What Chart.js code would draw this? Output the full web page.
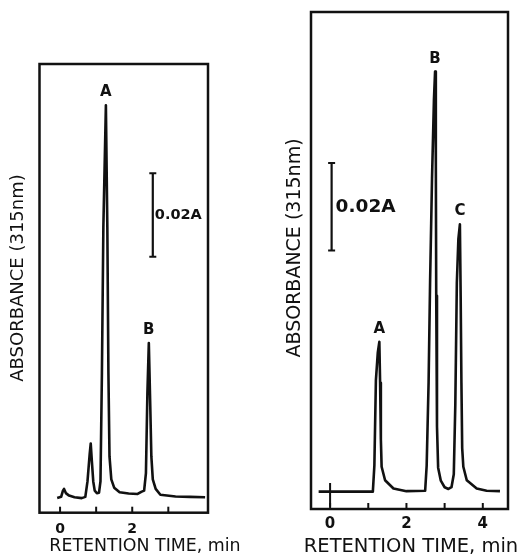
<!DOCTYPE html>
<html>
<head>
<meta charset="utf-8">
<script src="https://cdn.jsdelivr.net/npm/chart.js"></script>
<style>
  body { margin: 0; background: #fff; }
  #wrap { position: relative; width: 522px; height: 557px; overflow: hidden; }
  canvas { position: absolute; top: 0; }
  #left { left: 0; }
  #right { left: 261px; }
</style>
</head>
<body>
<div id="wrap">
  <canvas id="left" width="261" height="557"></canvas>
  <canvas id="right" width="261" height="557"></canvas>
</div>
<script>
// left chromatogram (peaks A, B)
const leftTime = [-0.08, 0.03, 0.08, 0.11, 0.16, 0.25, 0.40, 0.60, 0.70, 0.76, 0.82, 0.85, 0.88, 0.92, 0.96,
  1.02, 1.08, 1.12, 1.16, 1.20, 1.27, 1.31, 1.34, 1.37, 1.42, 1.50, 1.65, 1.90, 2.15, 2.25, 2.33, 2.38,
  2.42, 2.46, 2.50, 2.53, 2.57, 2.65, 2.78, 3.20, 3.60, 4.02];
const leftAbs = [0.0000, 0.0003, 0.0018, 0.0022, 0.0012, 0.0006, 0.0002, 0.0000, 0.0003, 0.0040, 0.0105, 0.0131, 0.0090, 0.0040, 0.0018,
  0.0012, 0.0013, 0.0040, 0.0300, 0.0650, 0.0942, 0.0650, 0.0300, 0.0100, 0.0045, 0.0025, 0.0014, 0.0011, 0.0010, 0.0015, 0.0018, 0.0060,
  0.0250, 0.0372, 0.0220, 0.0100, 0.0045, 0.0022, 0.0008, 0.0004, 0.0003, 0.0002];
const leftPeakNames = ["A", "B"];
const leftPeakTime = [1.27, 2.46];
const leftPeakAbs = [0.0942, 0.0372];
const leftBarTime = [2.57, 2.57];
const leftBarAbs = [0.0579, 0.0779];
const leftTicks = [0, 1, 2, 3];
const leftTickLabels = [0, 2];

// right chromatogram (peaks A, B, C)
const rightTime = [-0.30, 1.12, 1.16, 1.20, 1.25, 1.29, 1.31, 1.33, 1.35, 1.44, 1.66, 2.00, 2.49, 2.53, 2.58, 2.62,
  2.67, 2.72, 2.75, 2.77, 2.78, 2.80, 2.83, 2.90, 3.00, 3.10, 3.18, 3.24, 3.28, 3.32, 3.36, 3.40, 3.42, 3.44,
  3.46, 3.49, 3.58, 3.84, 4.10, 4.45];
const rightAbs = [0.0000, 0.0000, 0.0060, 0.0256, 0.0320, 0.0344, 0.0250, 0.0120, 0.0057, 0.0026, 0.0007, 0.0001, 0.0002, 0.0060, 0.0250, 0.0486,
  0.0720, 0.0900, 0.0965, 0.0750, 0.0450, 0.0150, 0.0055, 0.0025, 0.0010, 0.0006, 0.0010, 0.0040, 0.0200, 0.0480, 0.0580, 0.0614, 0.0450, 0.0250,
  0.0100, 0.0057, 0.0026, 0.0007, 0.0002, 0.0001];
const rightPeakNames = ["A", "B", "C"];
const rightPeakTime = [1.29, 2.75, 3.40];
const rightPeakAbs = [0.0344, 0.0965, 0.0614];
const rightBarTime = [0.04, 0.04];
const rightBarAbs = [0.0554, 0.0755];
const rightInjectTime = [0, 0];
const rightInjectAbs = [0.0020, -0.0035];
const rightTicks = [0, 1, 2, 3, 4];
const rightTickLabels = [0, 2, 4];

const ink = "#111";
const fam = "'DejaVu Sans', 'Liberation Sans', sans-serif";

function pts(xs, ys) {
  return xs.map((x, i) => ({ x: x, y: ys[i] }));
}

// box, inward ticks, peak letters, scale-bar label and axis titles
const framePlugin = {
  id: "frame",
  afterDatasetsDraw(chart, args, o) {
    const ctx = chart.ctx;
    const a = chart.chartArea;
    const x = chart.scales.x, y = chart.scales.y;
    ctx.save();
    ctx.strokeStyle = ink;
    ctx.fillStyle = ink;
    ctx.lineWidth = 2.5;
    ctx.strokeRect(a.left, a.top, a.right - a.left, a.bottom - a.top);

    ctx.lineWidth = 2;
    o.ticks.forEach(t => {
      const px = x.getPixelForValue(t);
      ctx.beginPath();
      ctx.moveTo(px, a.bottom);
      ctx.lineTo(px, a.bottom - 6);
      ctx.stroke();
    });

    ctx.textAlign = "center";
    ctx.textBaseline = "middle";
    ctx.font = o.peakFont;
    o.names.forEach((n, i) => {
      ctx.fillText(n, x.getPixelForValue(o.peakTime[i]), y.getPixelForValue(o.peakAbs[i]) - 13);
    });

    ctx.textAlign = "left";
    ctx.font = o.barFont;
    ctx.fillText("0.02A", x.getPixelForValue(o.barTime[0]) + o.barGap,
      y.getPixelForValue((o.barAbs[0] + o.barAbs[1]) / 2));

    ctx.textAlign = "center";
    ctx.font = o.xTitleFont;
    ctx.fillText("RETENTION TIME, min", o.xTitleAt[0], o.xTitleAt[1]);

    ctx.translate(o.yTitleAt[0], o.yTitleAt[1]);
    ctx.rotate(-Math.PI / 2);
    ctx.font = o.yTitleFont;
    ctx.fillText("ABSORBANCE (315nm)", 0, 0);
    ctx.restore();
  }
};

function makeChart(id, c) {
  const datasets = [
    { data: pts(c.time, c.abs), borderColor: ink, borderWidth: 2.6, pointRadius: 0, borderJoinStyle: "round", tension: 0 },
    { data: pts(c.barTime, c.barAbs), borderColor: ink, borderWidth: 2.2, pointStyle: "line",
      pointRadius: 3.5, pointBorderWidth: 2, pointBorderColor: ink }
  ];
  if (c.injTime) {
    datasets.push({ data: pts(c.injTime, c.injAbs), borderColor: ink, borderWidth: 2, pointRadius: 0 });
  }
  return new Chart(document.getElementById(id), {
    type: "line",
    data: { datasets: datasets },
    plugins: [framePlugin],
    options: {
      responsive: false,
      animation: false,
      layout: { padding: c.pad },
      plugins: {
        legend: { display: false },
        tooltip: { enabled: false },
        frame: {
          ticks: c.ticks, names: c.names, peakTime: c.peakTime, peakAbs: c.peakAbs,
          barTime: c.barTime, barAbs: c.barAbs, barGap: c.barGap,
          peakFont: c.peakFont, barFont: c.barFont,
          xTitleFont: c.xTitleFont, xTitleAt: c.xTitleAt,
          yTitleFont: c.yTitleFont, yTitleAt: c.yTitleAt
        }
      },
      scales: {
        x: {
          type: "linear", min: c.xMin, max: c.xMax,
          grid: { display: false }, border: { display: false },
          ticks: {
            stepSize: 1, includeBounds: false, autoSkip: false,
            padding: c.tickPad, color: ink, maxRotation: 0,
            font: { family: fam, size: c.tickSize, weight: "bold" },
            callback: v => (c.tickLabels.includes(Math.round(v * 100) / 100) ? String(Math.round(v)) : "")
          },
          afterFit: s => { s.height = c.xHeight; }
        },
        y: { display: false, min: c.yMin, max: c.yMax }
      }
    }
  });
}

makeChart("left", {
  time: leftTime, abs: leftAbs, names: leftPeakNames, peakTime: leftPeakTime, peakAbs: leftPeakAbs,
  barTime: leftBarTime, barAbs: leftBarAbs, ticks: leftTicks, tickLabels: leftTickLabels,
  xMin: -0.57, xMax: 4.1, yMin: -0.0035, yMax: 0.1041,
  pad: { left: 39.5, right: 53, top: 64, bottom: 0 }, xHeight: 44.3, tickPad: 0, tickSize: 14,
  barGap: 2, peakFont: "bold 15px " + fam, barFont: "bold 14.5px " + fam,
  xTitleFont: "17.4px " + fam, xTitleAt: [145, 546],
  yTitleFont: "18px " + fam, yTitleAt: [18, 278]
});

makeChart("right", {
  time: rightTime, abs: rightAbs, names: rightPeakNames, peakTime: rightPeakTime, peakAbs: rightPeakAbs,
  barTime: rightBarTime, barAbs: rightBarAbs, injTime: rightInjectTime, injAbs: rightInjectAbs,
  ticks: rightTicks, tickLabels: rightTickLabels,
  xMin: -0.5, xMax: 4.66, yMin: -0.004, yMax: 0.1102,
  pad: { left: 50, right: 14, top: 12, bottom: 0 }, xHeight: 48, tickPad: -2, tickSize: 15,
  barGap: 4, peakFont: "bold 15px " + fam, barFont: "bold 18.5px " + fam,
  xTitleFont: "19.5px " + fam, xTitleAt: [150, 547],
  yTitleFont: "19px " + fam, yTitleAt: [34, 248]
});
</script>
</body>
</html>
